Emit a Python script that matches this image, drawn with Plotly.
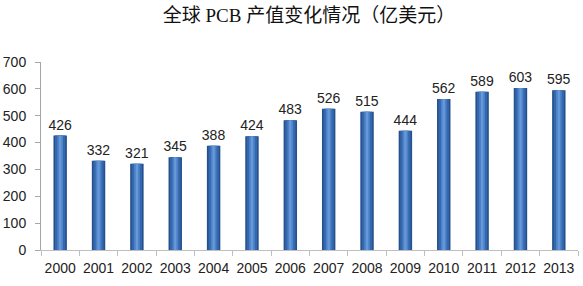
import plotly.graph_objects as go

years = ["2000", "2001", "2002", "2003", "2004", "2005", "2006", "2007",
         "2008", "2009", "2010", "2011", "2012", "2013"]
values = [426, 332, 321, 345, 388, 424, 483, 526, 515, 444, 562, 589, 603, 595]
y_ticks = [0, 100, 200, 300, 400, 500, 600, 700]
title_text = "全球 PCB 产值变化情况（亿美元）"

fig = go.Figure()
# layered bars to mimic cylinder shading
layers = [(0.35, "#24508C"), (0.27, "#3567AC"), (0.15, "#4C82C8"), (0.06, "#6798D8")]
for i, (w, c) in enumerate(layers):
    fig.add_trace(go.Bar(
        x=years, y=values, width=w, marker=dict(color=c, line=dict(width=0)),
        text=[str(v) for v in values] if i == 0 else None,
        textposition="outside" if i == 0 else "none",
        constraintext="none",
        textfont=dict(family="Liberation Sans, Arial", size=14, color="#222"),
        cliponaxis=False, hoverinfo="skip", showlegend=False))

fig.update_layout(
    barmode="overlay",
    width=583, height=286,
    margin=dict(l=41, r=5, t=62, b=36, autoexpand=False),
    paper_bgcolor="white", plot_bgcolor="white",
    title=dict(text=title_text, x=0.53, xanchor="center", y=0.945, yanchor="middle",
               font=dict(family="Liberation Serif, Noto Sans CJK SC", size=19, color="#111")),
    font=dict(family="Liberation Sans, Arial", size=14, color="#222"),
)
fig.update_xaxes(
    type="category", showline=True, linecolor="#BFBFBF", linewidth=1,
    ticks="outside", ticklen=5, tickcolor="#BFBFBF", tickson="boundaries",
    tickangle=0, automargin=False,
    showgrid=False, tickfont=dict(size=14, color="#222"), ticklabelstandoff=5)
fig.update_yaxes(
    range=[0, 700], tickvals=y_ticks, showline=True, linecolor="#A6A6A6", linewidth=1,
    ticks="outside", ticklen=5, tickcolor="#A6A6A6", showgrid=False, zeroline=False,
    automargin=False,
    tickfont=dict(size=14, color="#222"), ticklabelstandoff=6)

fig.write_html("out.html")
